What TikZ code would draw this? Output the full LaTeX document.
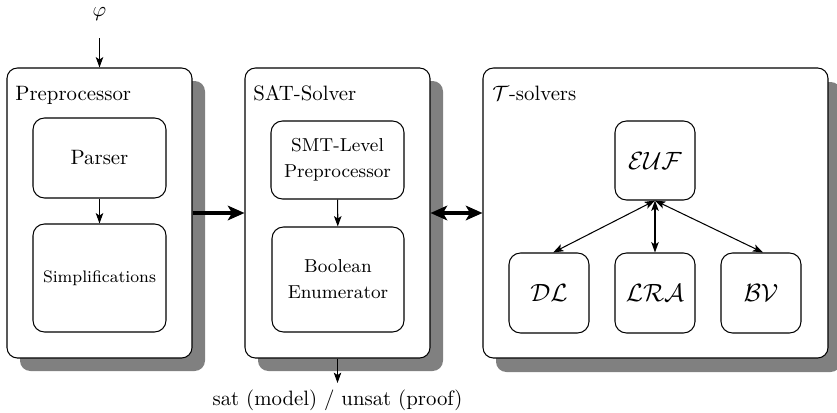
\documentclass[tikz,border=0pt]{standalone}
\usetikzlibrary{arrows.meta,positioning}

\tikzset{
  unit/.style={x=0.4808pt,y=-0.4808pt},
  frame/.style={draw,line width=0.5pt,rounded corners=5pt,fill=white},
  shade/.style={fill=black!50,rounded corners=5pt},
  inner/.style={draw,line width=0.5pt,rounded corners=5.5pt,fill=white,
    inner sep=0pt,align=center},
  label/.style={anchor=base west,inner sep=0pt},
  arr/.style={line width=0.5pt,-{Stealth[length=5pt,width=3.6pt,inset=1.2pt]}},
  biarr/.style={line width=0.5pt,{Stealth[length=5pt,width=3.6pt,inset=1.2pt]}-{Stealth[length=5pt,width=3.6pt,inset=1.2pt]}},
  fat/.style={line width=2.3pt,-{Stealth[length=8pt,width=7pt,inset=2pt]}},
  fatbi/.style={line width=2.3pt,{Stealth[length=8pt,width=7pt,inset=2pt]}-{Stealth[length=8pt,width=7pt,inset=2pt]}},
  smallbox/.style={font=\fontsize{9}{12.5}\selectfont}
}

\begin{document}
\begin{tikzpicture}[unit]
\useasboundingbox (0,0) rectangle (837,413);

% drop shadows of the three stages
\fill[shade] (20,81) rectangle (205,371);
\fill[shade] (258,81) rectangle (443,371);
\fill[shade] (496,82) rectangle (841,372);

% the three stages
\node[frame,minimum width=185*0.4808pt,minimum height=290*0.4808pt,inner sep=0pt]
  (prep) at (99.5,213) {};
\node[frame,minimum width=185*0.4808pt,minimum height=290*0.4808pt,inner sep=0pt]
  (sat) at (337.5,213) {};
\node[frame,minimum width=345*0.4808pt,minimum height=290*0.4808pt,inner sep=0pt]
  (tsol) at (655.5,213) {};

\node[label] (prepl) at (15,100) {Preprocessor};
\node[label] (satl) at (253,100) {SAT-Solver};
\node[label] (tsoll) at (492,100) {$\mathcal{T}$-solvers};

% preprocessor internals
\node[inner,minimum width=133*0.4808pt,minimum height=80*0.4808pt]
  (parser) at (99.5,158) {Parser};
\node[inner,minimum width=133*0.4808pt,minimum height=108*0.4808pt,font=\footnotesize]
  (simp) at (99.5,278) {Simplifications};
\draw[arr] (parser) -- (simp);

% SAT-solver internals
\node[inner,smallbox,minimum width=133*0.4808pt,minimum height=78*0.4808pt]
  (smt) at (337.5,160) {SMT-Level\\Preprocessor};
\node[inner,smallbox,minimum width=132*0.4808pt,minimum height=105*0.4808pt]
  (bool) at (338,279.5) {Boolean\\Enumerator};
\draw[arr] (smt) -- (bool);

% theory solvers
\node[inner,minimum width=80*0.4808pt,minimum height=79*0.4808pt,font=\large]
  (euf) at (655,160.5) {$\mathcal{EUF}$};
\node[inner,minimum width=80*0.4808pt,minimum height=80*0.4808pt,font=\large]
  (dl) at (549,293) {$\mathcal{DL}$};
\node[inner,minimum width=80*0.4808pt,minimum height=80*0.4808pt,font=\large]
  (lra) at (655,293) {$\mathcal{LRA}$};
\node[inner,minimum width=80*0.4808pt,minimum height=80*0.4808pt,font=\large]
  (bv) at (761,293) {$\mathcal{BV}$};
\draw[biarr] (euf.south) -- ([xshift=2pt]dl.north);
\draw[biarr] (euf.south) -- (lra.north);
\draw[biarr] (euf.south) -- ([xshift=1pt]bv.north);

% input formula and result
\node (phi) at (99.5,14) {$\varphi$};
\draw[arr,shorten <=5pt] (phi) -- (prep.north);
\node[anchor=north] (out) at (337.5,383) {sat (model) / unsat (proof)};
\draw[arr] (sat.south) -- (out.north);

% data flow between stages
\draw[fat] (prep.east) -- (sat.west);
\draw[fatbi] (sat.east) -- (tsol.west);
\end{tikzpicture}
\end{document}
